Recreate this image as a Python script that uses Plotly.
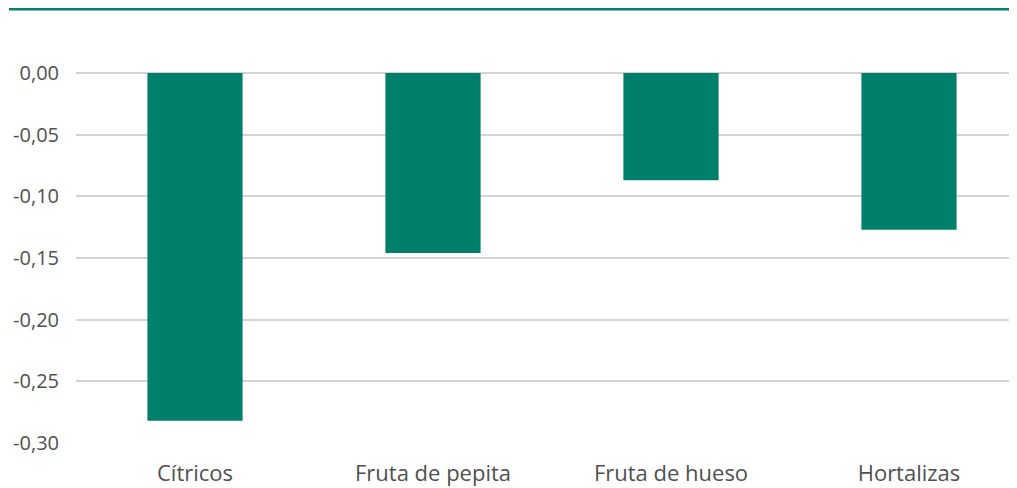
import plotly.graph_objects as go

categories = ["Cítricos", "Fruta de pepita", "Fruta de hueso", "Hortalizas"]
values = [-0.282, -0.146, -0.087, -0.127]
y_ticks = [0.0, -0.05, -0.10, -0.15, -0.20, -0.25, -0.30]
y_tick_labels = ["0,00", "-0,05", "-0,10", "-0,15", "-0,20", "-0,25", "-0,30"]

GREEN = "#00806B"
TEXT = "#505050"
GRID = "#d4d4d4"
FONT = "Open Sans"

fig = go.Figure(go.Bar(
    x=list(range(len(categories))), y=values,
    marker=dict(color=GREEN, line=dict(width=0)),
    width=0.4,
))

# page body has an 8px margin: shift everything up/left by 8px
OFF = 8
W, H = 1017 - OFF, 488 - OFF
L, R, T = 76 - OFF, 0, 72 - OFF
B = H - (444 - OFF)
pw, ph = W - L - R, H - T - B

fig.update_layout(
    width=W, height=H,
    margin=dict(l=L, r=R, t=T, b=B, pad=0, autoexpand=False),
    paper_bgcolor="white", plot_bgcolor="white",
    showlegend=False,
    font=dict(family=FONT, size=20, color=TEXT),
    xaxis=dict(
        automargin=False,
        tickvals=list(range(len(categories))), ticktext=categories,
        range=[-0.5, -0.5 + pw / 238],
        showgrid=False, zeroline=False, showline=False,
        ticks="", ticklabelstandoff=14,
        tickfont=dict(family=FONT, size=22, color=TEXT),
    ),
    yaxis=dict(
        automargin=False,
        range=[-0.3008, 0.0008],
        tickvals=y_ticks, ticktext=y_tick_labels,
        showgrid=True, gridcolor=GRID, gridwidth=1.5,
        zeroline=True, zerolinecolor=GRID, zerolinewidth=1.5,
        showline=False, ticks="outside", ticklen=12,
        tickcolor="rgba(0,0,0,0)",
        tickfont=dict(family=FONT, size=20, color=TEXT),
    ),
    shapes=[dict(
        type="line", xref="paper", yref="paper",
        x0=(9 - 76) / pw, x1=1.02, y0=1 + (72 - 9) / ph, y1=1 + (72 - 9) / ph,
        line=dict(color=GREEN, width=3),
    )],
)

fig.write_html("out.html")
